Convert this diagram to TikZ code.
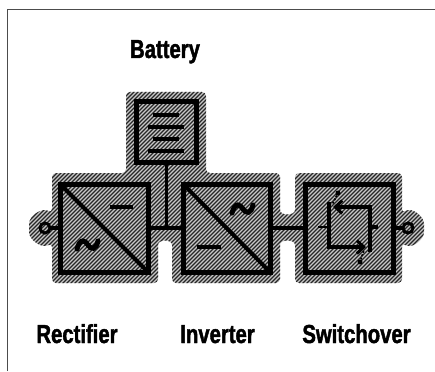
\documentclass[tikz,border=0pt]{standalone}
\usepackage{fontspec}
\setmainfont[BoldFont={Liberation Sans Bold},BoldFeatures={FakeStretch=0.78,FakeBold=1.6}]{Liberation Sans}
\usetikzlibrary{arrows.meta}
\tikzset{
  unitbox/.style={draw=black,line width=5pt,inner sep=0pt,outer sep=0pt},
  wire/.style={draw=black,line width=3.6pt},
  bar/.style={draw=black,line width=4.6pt},
  thinwire/.style={draw=black,line width=2.6pt},
  lbl/.style={font=\bfseries\fontsize{26}{27}\selectfont,anchor=base,inner sep=0pt,text=black},
  term/.style={circle,draw=black,line width=3pt,minimum size=10pt,inner sep=0pt,outer sep=0pt},
  frameline/.style={draw=black!70,line width=1pt},
  tick/.style={draw=black,line width=1.6pt,dash pattern=on 2pt off 1.5pt},
  mark dot/.style={circle,fill=black,minimum size=5pt,inner sep=0pt},
}
\def\halopath{(126,92) -- (206,92) -- (206,173) -- (280,173) -- (280,206) .. controls (280,216) and (295,216) .. (295,206) -- (295,173) -- (402,173) -- (402,213) .. controls (412,207) and (424,216) .. (424,228) .. controls (424,240) and (412,249) .. (402,243) -- (402,283) -- (295,283) -- (295,249) .. controls (295,239) and (280,239) .. (280,249) -- (280,283) -- (172,283) -- (172,249) .. controls (172,239) and (158,239) .. (158,249) -- (158,283) -- (52,283) -- (52,243) .. controls (42,249) and (29,240) .. (29,228) .. controls (29,216) and (42,207) .. (52,213) -- (52,173) -- (126,173) -- cycle}
\begin{document}
\begin{tikzpicture}[x=1pt,y=-1pt]
\useasboundingbox (0,0) rectangle (435,371);
\fill[white] (0,0) rectangle (435,371);
% frame
\coordinate (ftl) at (7,10);
\coordinate (ftr) at (435,10);
\coordinate (fbl) at (7,371);
\draw[frameline] (fbl) -- (ftl) -- (ftr);
% hatched halo
\begin{scope}
\clip[rounded corners=4pt] \halopath;
\fill[black!22] (20,85) rectangle (430,290);
\foreach \k in {-60,-56,...,480}{
  \draw[black!85,line width=1.1pt] (\k-50,300) -- (\k+180,70);
}
\end{scope}
% boxes
\node[unitbox,minimum width=60pt,minimum height=61pt] (bat) at (166.5,132.5) {};
\node[unitbox,minimum width=88pt,minimum height=88pt] (rect) at (104,228) {};
\node[unitbox,minimum width=87pt,minimum height=88pt] (inv) at (226.5,228) {};
\node[unitbox,minimum width=88pt,minimum height=88pt] (sw) at (349,228) {};
% terminals
\node[term] (tl) at (45,228) {};
\node[term] (tr) at (408,228) {};
% connectors
\coordinate (junc) at (bat.south |- rect.east);
\draw[wire] (tl) -- (rect.west);
\draw[wire] (rect.east) -- (inv.west);
\draw[wire] (bat.south) -- (junc);
\draw[wire] (inv.east) -- (sw.west);
\draw[wire] (sw.east) -- (tr);
% battery plates
\foreach \yy/\xa/\xb in {115/153/179,127/148/184,139/153/179,151/148/184}{
  \draw[bar] (\xa,\yy) -- (\xb,\yy);
}
% rectifier symbols
\draw[bar,line width=4pt] (rect.north west) -- (rect.south east);
\draw[bar] (110,207) -- (133,207);
\draw[bar,line cap=round,line width=5pt] (77,249) .. controls (80,238) and (85,240) .. (88,245) .. controls (91,250) and (96,250) .. (98,241);
% inverter symbols
\draw[bar,line width=4pt] (inv.north west) -- (inv.south east);
\draw[bar] (197,247) -- (221,247);
\draw[bar,line cap=round,line width=5pt] (232,213) .. controls (235,202) and (240,204) .. (243,209) .. controls (246,214) and (251,214) .. (253,205);
% switchover symbols
\coordinate (swa) at (370,207);
\coordinate (swb) at (333,207);
\coordinate (swc) at (370,252);
\coordinate (swd) at (329,202);
\coordinate (swe) at (329,247);
\coordinate (swf) at (366,247);
\draw[bar,-{Straight Barb[length=7pt,width=13pt,line width=3pt]}] (swc) -- (swa) -- (swb);
\draw[bar,-{Straight Barb[length=7pt,width=13pt,line width=3pt]}] (swd) -- (swe) -- (swf);
\draw[thinwire] (318,227) -- (329,227);
\draw[bar] (370,227) -- (378,227);
\node[mark dot] (da) at (338,193) {};
\node[mark dot] (db) at (360,262) {};
\coordinate (dae) at (332,205);
\coordinate (dbe) at (364,250);
\draw[tick] (da) -- (dae);
\draw[tick] (db) -- (dbe);
% labels
\node[lbl] (lbat) at (165,58) {Battery};
\node[lbl] (lrect) at (77,343) {Rectifier};
\node[lbl] (linv) at (217.5,343) {Inverter};
\node[lbl] (lsw) at (356.5,343) {Switchover};
\end{tikzpicture}
\end{document}
